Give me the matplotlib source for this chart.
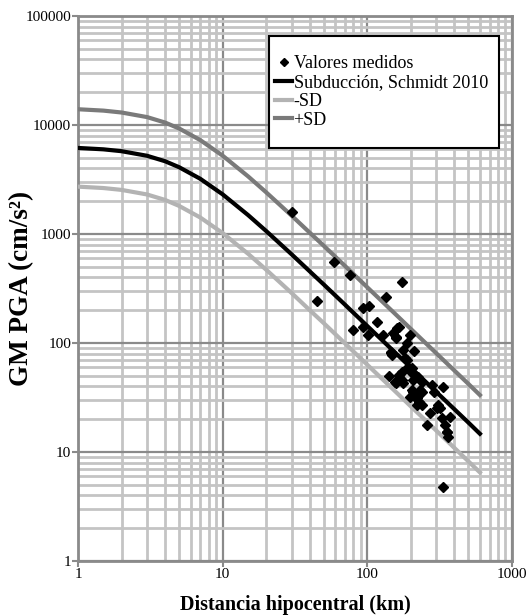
import matplotlib
matplotlib.use('agg')
import matplotlib.pyplot as plt
from matplotlib.ticker import LogLocator, NullFormatter, FixedFormatter, FixedLocator
from matplotlib.patches import Rectangle

# Modelo de subduccion (Schmidt 2010) y bandas +/- una desviacion estandar
dist_model = [1, 1.5, 2, 3, 4, 5, 7, 10, 15, 20, 30, 40, 50, 70, 100, 150, 200, 300, 500, 600]
pga_mean = [6160, 5980, 5750, 5220, 4650, 4100, 3210, 2310, 1490, 1064, 650, 454, 344, 225,
            143, 85.6, 59.4, 35.5, 18.6, 14.7]
pga_plus = [13950, 13550, 13020, 11820, 10530, 9290, 7270, 5230, 3375, 2410, 1472, 1028, 779,
            510, 324, 194, 134.5, 80.4, 42.1, 33.3]
pga_minus = [2720, 2640, 2539, 2305, 2053, 1810, 1417, 1020, 658, 470, 287, 200, 152, 99.3,
             63.1, 37.8, 26.2, 15.7, 8.2, 6.5]

# Valores medidos: distancia hipocentral (km) y PGA (cm/s2)
dist_obs = [30.0, 58.8, 75.8, 172.6, 44.6, 134.5, 93.7, 103, 116, 80, 93.7, 101, 129,
            161, 159, 157, 166, 151, 197, 187, 210, 145, 148, 176, 182, 192, 202,
            141.6, 166, 172.6, 159, 177, 202, 225, 237, 278, 334.5, 288.5, 207.6, 237,
            197, 219, 228, 237, 219, 309, 317.5, 271, 326, 372, 257, 343.6, 358, 362,
            334.5, 187, 197, 231, 207.6, 155, 172.6, 202, 213, 146, 304, 353]
pga_obs = [1602, 557, 421, 360, 244, 262, 208, 220, 157, 132, 141, 118, 118,
           136, 114, 111, 141, 123, 118, 101, 85, 80.5, 77.6, 86.3, 72.4, 60.6, 58.6,
           49.8, 50.8, 54.6, 43.3, 43.3, 52.7, 49.1, 44.2, 41.2, 39.7, 35.7, 35.7, 35.7,
           32.1, 31.1, 28.9, 27.0, 27.0, 27.0, 25.2, 22.6, 20.4, 21.1, 17.7, 17.7, 15.3, 13.6,
           4.8, 69.8, 56.5, 37.1, 45.8, 44.2, 45.8, 37.1, 32.1, 83.2, 25.2, 15.3]

x_ticks = [1, 10, 100, 1000]
x_labels = ['1', '10', '100', '1000']
y_ticks = [1, 10, 100, 1000, 10000, 100000]
y_labels = ['1', '10', '100', '1000', '10000', '100000']

serif = 'Liberation Serif'
grid_light = '#c4c4c4'
grid_dark = '#8a8a8a'

fig = plt.figure(figsize=(5.31, 6.16), dpi=100)
ax = fig.add_axes([78 / 531, 55 / 616, 434 / 531, 545 / 616])
ax.set_xscale('log')
ax.set_yscale('log')
ax.set_xlim(1, 1000)
ax.set_ylim(1, 100000)

ax.xaxis.set_major_locator(FixedLocator(x_ticks))
ax.xaxis.set_major_formatter(FixedFormatter(x_labels))
ax.yaxis.set_major_locator(FixedLocator(y_ticks))
ax.yaxis.set_major_formatter(FixedFormatter(y_labels))
for axis in (ax.xaxis, ax.yaxis):
    axis.set_minor_locator(LogLocator(base=10, subs=range(2, 10), numticks=20))
    axis.set_minor_formatter(NullFormatter())

ax.grid(which='minor', color=grid_light, linewidth=2.0, zorder=0)
ax.grid(which='major', color=grid_dark, linewidth=1.6, zorder=0)
ax.set_axisbelow(True)
ax.tick_params(which='major', direction='out', length=4, width=1.5, color=grid_dark,
               pad=1, labelsize=11)
ax.tick_params(which='minor', length=0)
for lab in ax.get_xticklabels() + ax.get_yticklabels():
    lab.set_family(serif)
for sp in ax.spines.values():
    sp.set_color(grid_dark)
    sp.set_linewidth(2)

ax.plot(dist_obs, pga_obs, linestyle='none', marker='D', markersize=5.5, color='black',
        zorder=4, label='Valores medidos')
ax.plot(dist_model, pga_mean, color='black', linewidth=3, zorder=3,
        label='Subducción, Schmidt 2010')
ax.plot(dist_model, pga_minus, color='#b3b3b3', linewidth=3, zorder=3, label='-SD')
ax.plot(dist_model, pga_plus, color='#7a7a7a', linewidth=3, zorder=3, label='+SD')

# caja de la leyenda, mas alta que su contenido
ax.add_patch(Rectangle((0.44, 0.758), 0.53, 0.205, transform=ax.transAxes,
                       facecolor='white', edgecolor='black', linewidth=1.5, zorder=5))
leg = ax.legend(loc='upper left', bbox_to_anchor=(0.455, 0.928), frameon=False,
                prop={'family': serif, 'size': 13}, handlelength=0.9, handletextpad=0.1,
                labelspacing=0.1, borderpad=0, borderaxespad=0, markerscale=0.7)
leg.set_zorder(6)

ax.set_xlabel('Distancia hipocentral (km)', family=serif, fontweight='bold', fontsize=14.5,
              labelpad=10)
ax.set_ylabel('GM PGA (cm/s²)', family=serif, fontweight='bold', fontsize=19.5)
ax.yaxis.set_label_coords(-0.101, 0.5)

fig.savefig('out.png', dpi=100)
